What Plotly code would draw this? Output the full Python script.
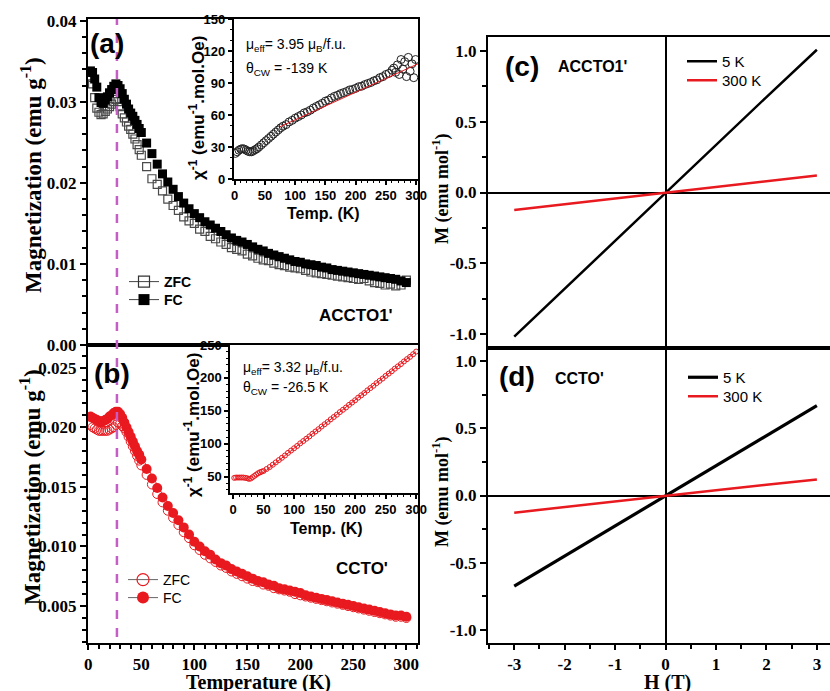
import plotly.graph_objects as go

# ---------------- data ----------------
T_main = [2, 4, 6, 8, 10, 12, 14, 16, 18, 20, 22, 24, 26, 28, 30, 32, 34, 36, 38, 40, 42, 44, 46, 48, 50,
          55, 60, 65, 70, 75, 80, 85, 90, 95, 100, 105, 110, 115, 120, 125, 130, 135, 140, 145, 150,
          155, 160, 165, 170, 175, 180, 185, 190, 195, 200, 205, 210, 215, 220, 225, 230, 235, 240, 245, 250,
          255, 260, 265, 270, 275, 280, 285, 290, 295, 300]

ZFC_a = [0.0330, 0.0322, 0.0305, 0.0292, 0.0287, 0.0284, 0.0285, 0.0288, 0.0291, 0.0294, 0.0297, 0.0300, 0.0303,
         0.0300, 0.0294, 0.0285, 0.0280, 0.0275, 0.0270, 0.0266, 0.0260, 0.0254, 0.0247, 0.0241, 0.0234,
         0.0220, 0.0205, 0.0198, 0.0190, 0.0180, 0.0172, 0.0166, 0.0158, 0.0153, 0.0150,
         0.0143, 0.0140, 0.0134, 0.0131, 0.0127, 0.0124, 0.0120, 0.0118, 0.0116, 0.0112,
         0.0110, 0.0107, 0.0105, 0.0104, 0.0101, 0.0099, 0.0098, 0.0096, 0.0095, 0.0094,
         0.0092, 0.0090, 0.0089, 0.0088, 0.0087, 0.0086, 0.0085, 0.0084, 0.0083, 0.0082,
         0.0081, 0.0082, 0.0079, 0.0077, 0.0076, 0.0074, 0.0075, 0.0073, 0.0074, 0.0080]
FC_a = [0.0338, 0.0336, 0.0328, 0.0318, 0.0305, 0.0299, 0.0298, 0.0302, 0.0306, 0.0311, 0.0315, 0.0319, 0.0322,
        0.0320, 0.0316, 0.0310, 0.0303, 0.0297, 0.0291, 0.0286, 0.0282, 0.0277, 0.0272, 0.0267, 0.0262,
        0.0249, 0.0236, 0.0223, 0.0211, 0.0201, 0.0192, 0.0183, 0.0175, 0.0168, 0.0162,
        0.0157, 0.0152, 0.0148, 0.0144, 0.0140, 0.0136, 0.0132, 0.0129, 0.0127, 0.0124,
        0.0121, 0.0118, 0.0116, 0.0113, 0.0111, 0.0109, 0.0107, 0.0105, 0.0103, 0.0102,
        0.0100, 0.0099, 0.0098, 0.0096, 0.0095, 0.0093, 0.0092, 0.0091, 0.0090, 0.0089,
        0.0088, 0.0087, 0.0086, 0.0085, 0.0084, 0.0083, 0.0082, 0.0081, 0.0079, 0.0077]

ZFC_b = [0.0202, 0.0200, 0.0199, 0.0198, 0.0197, 0.0197, 0.0197, 0.0197, 0.0197, 0.0198, 0.0199, 0.0200, 0.0202,
         0.0204, 0.0203, 0.0201, 0.0199, 0.0196, 0.0192, 0.0188, 0.0184, 0.0180, 0.0176, 0.0172, 0.0168,
         0.0160, 0.0152, 0.0144, 0.0137, 0.0130, 0.0124, 0.0118, 0.0112, 0.0107, 0.0101,
         0.0097, 0.0093, 0.0090, 0.0087, 0.0084, 0.0082, 0.0079, 0.0077, 0.0075, 0.0073,
         0.0071, 0.0070, 0.0068, 0.0067, 0.0065, 0.0064, 0.0063, 0.0062, 0.0060, 0.0059,
         0.0058, 0.0057, 0.0056, 0.0055, 0.0054, 0.0053, 0.0052, 0.0051, 0.0050, 0.0049,
         0.0048, 0.0047, 0.0046, 0.0045, 0.0044, 0.0043, 0.0042, 0.0041, 0.0041, 0.0040]
FC_b = [0.0209, 0.0208, 0.0207, 0.0206, 0.0205, 0.0205, 0.0205, 0.0206, 0.0207, 0.0209, 0.0210, 0.0212, 0.0213,
        0.0213, 0.0211, 0.0208, 0.0204, 0.0200, 0.0196, 0.0192, 0.0188, 0.0184, 0.0180, 0.0177, 0.0173,
        0.0165, 0.0157, 0.0149, 0.0141, 0.0134, 0.0128, 0.0122, 0.0116, 0.0110, 0.0104,
        0.0100, 0.0096, 0.0093, 0.0089, 0.0086, 0.0084, 0.0081, 0.0079, 0.0077, 0.0075,
        0.0073, 0.0071, 0.0070, 0.0068, 0.0067, 0.0065, 0.0064, 0.0063, 0.0062, 0.0061,
        0.0059, 0.0058, 0.0057, 0.0056, 0.0055, 0.0054, 0.0053, 0.0052, 0.0051, 0.0050,
        0.0049, 0.0048, 0.0047, 0.0046, 0.0045, 0.0044, 0.0043, 0.0042, 0.0042, 0.0041]

# inset (a): inverse susceptibility
T_inset_a = [1, 4, 7, 10, 13, 16, 19, 22, 25, 28, 31, 34, 37, 40, 44, 48, 52, 56, 60, 64, 68, 72, 76, 80,
             85, 90, 95, 100, 105, 110, 115, 120, 125, 130, 135, 140, 145, 150, 155, 160, 165, 170, 175,
             180, 185, 190, 195, 200, 205, 210, 215, 220, 225, 230, 235, 240, 245, 250, 255, 260, 263, 266,
             269, 272, 275, 278, 281, 284, 287, 290, 293, 296, 299]
chi_inv_a = [24, 25.5, 27, 28, 28.5, 28, 27, 26, 25.5, 25.5, 26.5, 27.5, 28.5, 30, 32, 34, 36, 38, 40, 42, 44, 46,
             48, 49.5, 51, 53.5, 55, 57, 58.5, 60, 62, 63, 64.5, 66.5, 68, 69.5, 71, 73, 74, 76, 77.5, 78.5, 80,
             81, 82, 83.5, 84, 85, 86.5, 87, 88.5, 89.5, 90.5, 92, 93, 95, 96, 98, 99, 102, 104, 100,
             107, 98, 112, 103, 110, 96, 114, 101, 108, 95, 112]
T_fit_a = [75, 303]
chi_fit_a = [49, 108]

# inset (b)
T_inset_b = [2, 5, 8, 11, 14, 17, 20, 23, 26, 29, 32, 35, 38, 41, 44, 47, 50, 55, 60, 65, 70, 75, 80, 85, 90, 95,
             100, 105, 110, 115, 120, 125, 130, 135, 140, 145, 150, 155, 160, 165, 170, 175, 180, 185, 190, 195,
             200, 205, 210, 215, 220, 225, 230, 235, 240, 245, 250, 255, 260, 265, 270, 275, 280, 285, 290, 295, 300]
chi_inv_b = [48, 48.5, 48.5, 48.5, 48.5, 48.5, 48, 47.5, 46.5, 47, 49, 51, 53, 55, 56.5, 57.5, 58.5, 61.5, 64.5,
             68, 71.5, 75, 78.5, 82, 86, 89.5, 93, 96.5, 100.5, 104, 107.5, 111, 115, 118.5, 122, 126, 129.5,
             133, 137, 140.5, 144, 148, 151.5, 155, 159, 162.5, 166, 170, 173.5, 177, 181, 184.5, 188, 192,
             195.5, 199, 203, 206.5, 210, 214, 217.5, 221, 225, 228.5, 232, 236, 240]
T_fit_b = [45, 300]
chi_fit_b = [52.5, 240]

# M-H loops
H_field = [-3, -2, -1, 0, 1, 2, 3]
M_c_5K = [-1.02, -0.68, -0.34, 0.0, 0.34, 0.675, 1.01]
M_c_300K = [-0.123, -0.082, -0.041, 0.0, 0.04, 0.08, 0.12]
M_d_5K = [-0.675, -0.45, -0.225, 0.0, 0.225, 0.45, 0.67]
M_d_300K = [-0.128, -0.085, -0.043, 0.0, 0.04, 0.08, 0.12]

T_transition = 27

# tick labels
T_ticks = [0, 50, 100, 150, 200, 250, 300]
Ma_ticks = [0.00, 0.01, 0.02, 0.03, 0.04]
Ma_ticktext = ["0.00", "0.01", "0.02", "0.03", "0.04"]
Mb_ticks = [0.005, 0.010, 0.015, 0.020, 0.025]
Mb_ticktext = ["0.005", "0.010", "0.015", "0.020", "0.025"]
MH_ticks = [-1.0, -0.5, 0.0, 0.5, 1.0]
MH_ticktext = ["-1.0", "-0.5", "0.0", "0.5", "1.0"]
H_ticks = [-3, -2, -1, 0, 1, 2, 3]
H_ticktext = ["-3", "-2", "-1", "0", "1", "2", "3"]
inset_a_yticks = [0, 30, 60, 90, 120, 150]
inset_b_yticks = [50, 100, 150, 200, 250]

# ---------------- figure ----------------
W, H = 830, 691


def px(x):
    return x / W


def py(y):
    return 1 - y / H


RED = "#e8191f"
SERIF = "Liberation Serif"
SANS = "Liberation Sans"

fig = go.Figure()

# panel (a)
fig.add_trace(go.Scatter(x=T_main, y=ZFC_a, mode="markers", showlegend=False, xaxis="x", yaxis="y",
                         marker=dict(symbol="square-open", size=8, color="#4a4a4a", line=dict(width=1.2))))
fig.add_trace(go.Scatter(x=T_main, y=FC_a, mode="markers", showlegend=False, xaxis="x", yaxis="y",
                         marker=dict(symbol="square", size=9, color="black")))
fig.add_trace(go.Scatter(x=[None], y=[None], mode="lines+markers", name="ZFC", legend="legend",
                         xaxis="x", yaxis="y", line=dict(color="#444", width=1),
                         marker=dict(symbol="square-open", size=11, color="#333", line=dict(width=1.2))))
fig.add_trace(go.Scatter(x=[None], y=[None], mode="lines+markers", name="FC", legend="legend2",
                         xaxis="x", yaxis="y", line=dict(color="#444", width=1),
                         marker=dict(symbol="square", size=11, color="black")))

# panel (b)
fig.add_trace(go.Scatter(x=T_main, y=ZFC_b, mode="markers", showlegend=False, xaxis="x2", yaxis="y2",
                         marker=dict(symbol="circle-open", size=9, color=RED, line=dict(width=1))))
fig.add_trace(go.Scatter(x=T_main, y=FC_b, mode="markers", showlegend=False, xaxis="x2", yaxis="y2",
                         marker=dict(symbol="circle", size=10, color=RED)))
fig.add_trace(go.Scatter(x=[None], y=[None], mode="lines+markers", name="ZFC", legend="legend3",
                         xaxis="x2", yaxis="y2", line=dict(color="#666", width=1),
                         marker=dict(symbol="circle-open", size=12, color=RED, line=dict(width=1.2))))
fig.add_trace(go.Scatter(x=[None], y=[None], mode="lines+markers", name="FC", legend="legend4",
                         xaxis="x2", yaxis="y2", line=dict(color="#666", width=1),
                         marker=dict(symbol="circle", size=12, color=RED)))

# panel (c)
fig.add_trace(go.Scatter(x=H_field, y=M_c_5K, mode="lines", name="5 K", legend="legend5",
                         xaxis="x3", yaxis="y3", line=dict(color="black", width=2.5)))
fig.add_trace(go.Scatter(x=H_field, y=M_c_300K, mode="lines", name="300 K", legend="legend6",
                         xaxis="x3", yaxis="y3", line=dict(color=RED, width=2.5)))
# panel (d)
fig.add_trace(go.Scatter(x=H_field, y=M_d_5K, mode="lines", name="5 K", legend="legend7",
                         xaxis="x4", yaxis="y4", line=dict(color="black", width=3.2)))
fig.add_trace(go.Scatter(x=H_field, y=M_d_300K, mode="lines", name="300 K", legend="legend8",
                         xaxis="x4", yaxis="y4", line=dict(color=RED, width=2.5)))

# inset (a)
fig.add_trace(go.Scatter(x=T_inset_a, y=chi_inv_a, mode="markers", showlegend=False, xaxis="x5", yaxis="y5",
                         marker=dict(symbol="circle-open", size=8, color="#222", line=dict(width=1))))
fig.add_trace(go.Scatter(x=T_fit_a, y=chi_fit_a, mode="lines", showlegend=False, xaxis="x5", yaxis="y5",
                         line=dict(color=RED, width=1)))
# inset (b)
fig.add_trace(go.Scatter(x=T_inset_b, y=chi_inv_b, mode="markers", showlegend=False, xaxis="x6", yaxis="y6",
                         marker=dict(symbol="circle-open", size=5, color=RED, line=dict(width=1))))
fig.add_trace(go.Scatter(x=T_fit_b, y=chi_fit_b, mode="lines", showlegend=False, xaxis="x6", yaxis="y6",
                         line=dict(color=RED, width=1)))

main_font = dict(family=SERIF, size=17, color="black", weight="bold")
inset_font = dict(family=SANS, size=13, color="black", weight="bold")


def main_axis(**kw):
    d = dict(showline=True, linecolor="black", linewidth=2, mirror=True, showgrid=False, zeroline=False,
             ticks="outside", ticklen=6, tickwidth=2, tickcolor="black", tickfont=main_font, automargin=False)
    d.update(kw)
    return d


def inset_axis(**kw):
    d = dict(showline=True, linecolor="black", linewidth=1.5, mirror=True, showgrid=False, zeroline=False,
             ticks="outside", ticklen=4, tickwidth=1.5, tickcolor="black", tickfont=inset_font,
             ticklabelstandoff=0, automargin=False)
    d.update(kw)
    return d


def one_legend(x, yc, size, bold=False):
    f = dict(family=SANS, size=size, color="black")
    if bold:
        f["weight"] = "bold"
    return dict(x=px(x), y=py(yc - 16), xanchor="left", yanchor="top", bgcolor="rgba(0,0,0,0)",
                font=f, tracegroupgap=0, itemwidth=30)


xl = [px(88), px(418)]
xr = [px(488), 1.0]

fig.update_layout(
    width=W, height=H, margin=dict(l=0, r=0, t=0, b=0, autoexpand=False),
    plot_bgcolor="white", paper_bgcolor="white",
    xaxis=main_axis(domain=xl, range=[-0.3, 311], anchor="y", showticklabels=False, ticks=""),
    yaxis=main_axis(domain=[py(345), py(19)], range=[0, 0.0402], anchor="x",
                    tickmode="array", tickvals=Ma_ticks, ticktext=Ma_ticktext,
                    minor=dict(ticks="outside", tickmode="linear", tick0=0, dtick=0.002, ticklen=4, tickwidth=1.5)),
    xaxis2=main_axis(domain=xl, range=[-0.3, 311], anchor="y2", tickmode="array", tickvals=T_ticks,
                     ticklen=5,
                     minor=dict(ticks="outside", tickmode="linear", tick0=0, dtick=10, ticklen=4, tickwidth=1.5)),
    yaxis2=main_axis(domain=[py(643), py(345)], range=[0.0019, 0.0269], anchor="x2",
                     tickmode="array", tickvals=Mb_ticks, ticktext=Mb_ticktext,
                     minor=dict(ticks="outside", tickmode="linear", tick0=0, dtick=0.001, ticklen=4, tickwidth=1.5)),
    xaxis3=main_axis(domain=xr, range=[-3.52, 3.26], anchor="y3", showticklabels=False, ticks="",
                     zeroline=True, zerolinecolor="black", zerolinewidth=2),
    yaxis3=main_axis(domain=[py(348), py(37)], range=[-1.1, 1.1], anchor="x3",
                     tickmode="array", tickvals=MH_ticks, ticktext=MH_ticktext,
                     zeroline=True, zerolinecolor="black", zerolinewidth=2,
                     minor=dict(ticks="outside", tickmode="linear", tick0=0, dtick=0.25, ticklen=4, tickwidth=1.5)),
    xaxis4=main_axis(domain=xr, range=[-3.52, 3.26], anchor="y4", tickmode="array", tickvals=H_ticks,
                     ticktext=H_ticktext, zeroline=True, zerolinecolor="black", zerolinewidth=2,
                     ticklen=5,
                     minor=dict(ticks="outside", tickmode="linear", tick0=0, dtick=0.5, ticklen=4, tickwidth=1.5)),
    yaxis4=main_axis(domain=[py(643), py(348)], range=[-1.1, 1.1], anchor="x4",
                     tickmode="array", tickvals=MH_ticks, ticktext=MH_ticktext,
                     zeroline=True, zerolinecolor="black", zerolinewidth=2,
                     minor=dict(ticks="outside", tickmode="linear", tick0=0, dtick=0.25, ticklen=4, tickwidth=1.5)),
    xaxis5=inset_axis(domain=[px(233.5), px(418)], range=[-2, 303], anchor="y5", tickmode="array",
                      tickvals=T_ticks,
                      minor=dict(ticks="outside", tickmode="linear", tick0=0, dtick=10, ticklen=2, tickwidth=1)),
    yaxis5=inset_axis(domain=[py(179), py(19)], range=[0, 150], anchor="x5", tickmode="array",
                      tickvals=inset_a_yticks,
                      minor=dict(ticks="outside", tickmode="linear", tick0=0, dtick=10, ticklen=2, tickwidth=1)),
    xaxis6=inset_axis(domain=[px(230), px(418)], range=[-5, 303], anchor="y6", tickmode="array",
                      tickvals=T_ticks,
                      minor=dict(ticks="outside", tickmode="linear", tick0=0, dtick=10, ticklen=2, tickwidth=1)),
    yaxis6=inset_axis(domain=[py(493), py(345)], range=[25, 250], anchor="x6", tickmode="array",
                      tickvals=inset_b_yticks,
                      minor=dict(ticks="outside", tickmode="linear", tick0=0, dtick=10, ticklen=2, tickwidth=1)),
    legend=one_legend(124, 282, 14, bold=True),
    legend2=one_legend(124, 300, 14, bold=True),
    legend3=one_legend(123, 580, 14),
    legend4=one_legend(123, 598, 14),
    legend5=one_legend(682, 61, 15),
    legend6=one_legend(682, 80, 15),
    legend7=one_legend(683, 377, 15),
    legend8=one_legend(683, 396, 15),
)

# dashed transition line across (a) and (b)
fig.add_shape(type="line", xref="x", yref="paper", x0=T_transition, x1=T_transition,
              y0=py(637), y1=py(19), line=dict(color="#c45ec4", width=2.5, dash="dash"), layer="above")


def ann(text, x, y, size, family=SANS, bold=True, angle=0, xanchor="center", yanchor="middle"):
    f = dict(family=family, size=size, color="black")
    if bold:
        f["weight"] = "bold"
    fig.add_annotation(text=text, x=px(x), y=py(y), xref="paper", yref="paper", showarrow=False,
                       xanchor=xanchor, yanchor=yanchor, textangle=angle, font=f)


# panel labels and sample names
ann("(a)", 107, 43, 28)
ann("(b)", 112, 373, 28)
ann("(c)", 522, 67, 28)
ann("(d)", 517, 377, 28)
ann("ACCTO1'", 356, 315, 17)
ann("CCTO'", 362, 568, 17)
ann("ACCTO1'", 592, 66, 16)
ann("CCTO'", 579, 378, 16)

# inset annotations
ann("μ<sub>eff</sub>= 3.95 μ<sub>B</sub>/f.u.", 244, 45, 14, bold=False, xanchor="left")
ann("θ<sub>CW</sub> = -139 K", 244, 69, 14, bold=False, xanchor="left")
ann("μ<sub>eff</sub>= 3.32 μ<sub>B</sub>/f.u.", 241, 368, 14, bold=False, xanchor="left")
ann("θ<sub>CW</sub> = -26.5 K", 241, 388, 14, bold=False, xanchor="left")
ann("χ<sup>-1</sup> (emu<sup>-1</sup>.mol.Oe)", 197, 108, 17, angle=-90)
ann("χ<sup>-1</sup> (emu<sup>-1</sup>.mol.Oe)", 192, 425, 17, angle=-90)
ann("Temp. (K)", 323, 213, 16)
ann("Temp. (K)", 326, 528, 16)

# main axis titles
ann("Magnetization (emu g<sup>-1</sup>)", 31, 175, 23, family=SERIF, angle=-90)
ann("Magnetization (emu g<sup>-1</sup>)", 31, 487, 23, family=SERIF, angle=-90)
ann("Temperature (K)", 258, 682, 20, family=SERIF)
ann("H (T)", 667, 682, 20, family=SERIF)
ann("M (emu mol<sup>-1</sup>)", 441, 189, 18, family=SERIF, angle=-90)
ann("M (emu mol<sup>-1</sup>)", 441, 492, 18, family=SERIF, angle=-90)

fig.write_html("out.html", config={"displayModeBar": False},
               post_script="document.body.style.margin='0';document.body.style.padding='0';"
                           "document.body.style.overflow='hidden';")
